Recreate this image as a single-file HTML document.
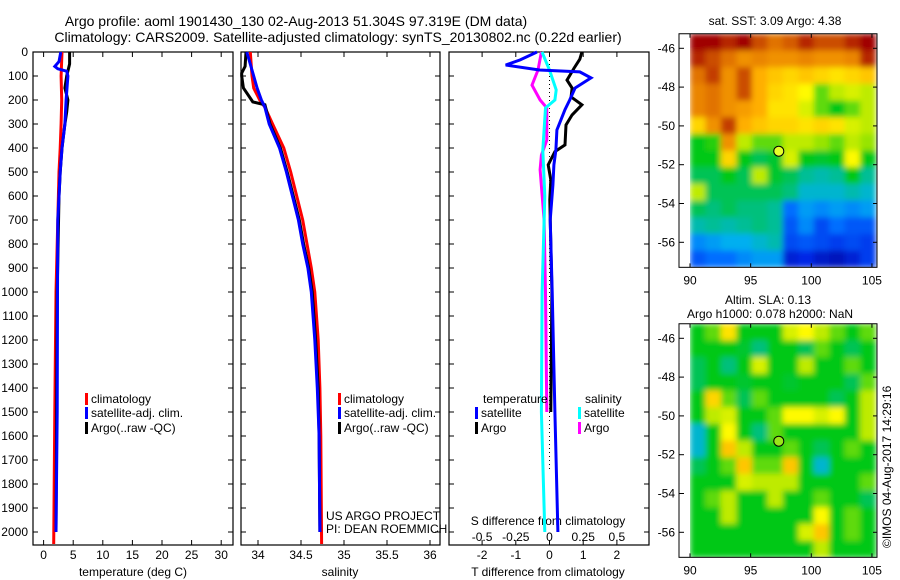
<!DOCTYPE html>
<html><head><meta charset="utf-8"><style>
html,body{margin:0;padding:0;background:#fff;}
svg{display:block;font-family:"Liberation Sans",sans-serif;}
text{font-size:12px;fill:#000;}
</style></head><body>
<svg id="c" width="900" height="580" viewBox="0 0 900 580" xmlns="http://www.w3.org/2000/svg">
<defs><filter id="blur" x="0" y="0" width="1" height="1"><feGaussianBlur stdDeviation="3" edgeMode="duplicate"/></filter></defs>
<text x="296" y="26" text-anchor="middle" style="font-size:14px">Argo profile: aoml 1901430_130 02-Aug-2013 51.304S 97.319E (DM data)</text>
<text x="338" y="42" text-anchor="middle" style="font-size:14px">Climatology: CARS2009. Satellite-adjusted climatology: synTS_20130802.nc (0.22d earlier)</text>
<text x="775" y="25" text-anchor="middle">sat. SST: 3.09 Argo: 4.38</text>
<text x="768" y="304" text-anchor="middle">Altim. SLA: 0.13</text>
<text x="770" y="318" text-anchor="middle">Argo h1000: 0.078 h2000: NaN</text>
<text transform="translate(891,548) rotate(-90)">©IMOS 04-Aug-2017 14:29:16</text>
<g id="g"></g>
</svg>
<script>
// ---- profile data ----
const tempClimDepth=[0,100,200,300,400,500,600,800,1000,1500,1900,2050];
const tempClim=[3.1,2.95,3.05,2.95,2.8,2.6,2.5,2.3,2.1,1.9,1.75,1.7];
const tempSatDepth=[0,40,60,70,80,100,200,300,400,500,700,1000,1500,2000];
const tempSat=[2.9,2.6,1.9,2.4,3.9,4.1,3.8,3.6,3.1,2.8,2.4,2.35,2.3,2.1];
const tempArgoDepth=[0,50,100,150,200,250,300,400,500,600,1000,1500,2000];
const tempArgo=[4.4,4.4,3.9,3.6,4.1,3.9,3.6,3.1,2.8,2.6,2.3,2.2,2.1];
const salClimDepth=[0,100,150,200,230,300,400,500,600,700,800,900,1000,1200,1400,1600,2050];
const salClim=[33.91,33.93,33.95,34.02,34.08,34.17,34.3,34.38,34.45,34.52,34.57,34.62,34.66,34.7,34.72,34.73,34.74];
const salSatDepth=[0,100,150,200,230,300,400,500,600,700,800,900,1000,1200,1400,1600,2000];
const salSat=[33.87,33.95,33.99,34.04,34.08,34.13,34.25,34.33,34.4,34.47,34.52,34.58,34.62,34.66,34.69,34.71,34.72];
const salArgoDepth=[0,60,88,100,150,208,220,300,400,500,600,700,800,900,1000,1200,1400,1600,2000];
const salArgo=[33.86,33.85,33.81,33.81,33.83,33.94,34.08,34.14,34.26,34.34,34.41,34.48,34.53,34.59,34.63,34.67,34.7,34.71,34.72];
const dTsatDepth=[0,33,54,75,83,108,150,200,240,325,408,470,555,700,1000,1500,2000];
const dTsat=[-0.37,-0.87,-1.3,-0.3,0.9,1.23,0.76,0.6,0.46,0.22,0.19,0.13,0.1,0.02,0.08,0.16,0.25];
const dTargoDepth=[0,30,67,117,150,187,220,262,304,387,415,470,533,616,1000,1500];
const dTargo=[0.96,0.9,0.73,0.52,0.67,0.64,0.96,0.67,0.49,0.46,0.16,-0.04,0.04,0.01,0.07,0.04];
const dSsatDepth=[0,75,158,200,233,325,408,600,1000,1500,2000];
const dSsat=[-0.056,0,0.05,0.04,-0.03,-0.04,-0.05,-0.035,-0.055,-0.06,-0.035];
const dSargoDepth=[0,75,138,200,233,367,430,490,700,1000,1500];
const dSargo=[-0.06,-0.085,-0.13,-0.07,-0.02,-0.02,-0.06,-0.07,-0.04,-0.03,-0.02];
const depthTicks=[0,100,200,300,400,500,600,700,800,900,1000,1100,1200,1300,1400,1500,1600,1700,1800,1900,2000];
const tempTicks=[0,5,10,15,20,25,30];
const salTicks=[34,34.5,35,35.5,36];
const salTickLabels=["34","34.5","35","35.5","36"];
const dTTicks=[-2,-1,0,1,2];
const dSTicks=[-0.5,-0.25,0,0.25,0.5];
const dSTickLabels=["-0.5","-0.25","0","0.25","0.5"];
// ---- map data (rows north->south, cols west->east, colormap index 0..1) ----
const mapLon0=90, mapLonStep=1.275, mapLat0=-45.25, mapLatStep=0.86;
const lonTicks=[90,95,100,105];
const latTicks=[-46,-48,-50,-52,-54,-56];
const sstGrid=[
[1,1,.95,1,.9,.85,.88,.95,.9,.9,.95,1],
[.95,.9,.85,.8,.82,.8,.8,.82,.8,.8,.82,.95],
[.85,.92,.8,.9,.75,.72,.7,.72,.7,.68,.7,.72],
[.82,.85,.8,.9,.75,.7,.68,.65,.55,.6,.62,.6],
[.82,.85,.8,.78,.75,.68,.68,.62,.55,.5,.55,.6],
[.7,.8,.92,.75,.72,.7,.7,.68,.7,.68,.62,.6],
[.5,.52,.8,.6,.55,.55,.6,.6,.58,.55,.6,.58],
[.5,.5,.7,.5,.45,.48,.62,.5,.48,.5,.65,.5],
[.45,.45,.5,.45,.6,.48,.45,.4,.38,.4,.5,.4],
[.6,.45,.45,.45,.45,.45,.42,.35,.35,.35,.38,.35],
[.45,.42,.45,.42,.42,.4,.25,.3,.28,.3,.28,.3],
[.38,.4,.38,.4,.42,.4,.22,.28,.2,.25,.22,.22],
[.28,.3,.32,.32,.35,.38,.2,.22,.2,.18,.2,.18],
[.22,.25,.25,.28,.3,.3,.12,.15,.1,.08,.12,.18]];
const slaGrid=[
[.5,.55,.68,.5,.5,.5,.62,.65,.6,.55,.5,.55],
[.5,.5,.5,.48,.42,.5,.5,.45,.55,.5,.45,.5],
[.45,.5,.42,.5,.62,.5,.5,.6,.5,.5,.55,.5],
[.45,.5,.5,.48,.5,.5,.48,.5,.5,.5,.45,.55],
[.5,.7,.55,.45,.55,.5,.5,.5,.5,.45,.5,.6],
[.5,.6,.62,.5,.5,.55,.65,.65,.62,.65,.5,.6],
[.35,.5,.65,.5,.42,.55,.5,.5,.5,.5,.5,.6],
[.35,.5,.72,.6,.5,.5,.55,.5,.45,.5,.55,.5],
[.45,.5,.55,.72,.55,.55,.72,.5,.35,.5,.5,.5],
[.5,.5,.5,.62,.6,.6,.6,.5,.5,.5,.5,.55],
[.5,.55,.6,.5,.5,.6,.5,.5,.55,.5,.5,.45],
[.5,.5,.6,.5,.5,.5,.5,.5,.65,.5,.55,.5],
[.5,.5,.5,.5,.5,.5,.5,.62,.72,.5,.55,.5],
[.5,.5,.5,.5,.5,.5,.5,.5,.6,.5,.5,.5]];
const argoLon=97.319, argoLat=-51.304;

const NS="http://www.w3.org/2000/svg";
const G=document.getElementById('g');
function mk(t,a,p){const e=document.createElementNS(NS,t);for(const k in a)e.setAttribute(k,a[k]);(p||G).appendChild(e);return e;}
const TOP=52,BOT=545;
const yD=d=>TOP+d*0.24;
const xT=v=>43.6+v*5.92;
const xS=v=>258+(v-34)*86;
const xdT=v=>549.5+v*33.7;
const xdS=v=>549.5+v*134.8;
const panels=[[33,233],[241,440],[449,649]];
panels.forEach((p,i)=>{
  const r=mk('rect',{x:p[0],y:TOP,width:p[1]-p[0],height:BOT-TOP,fill:'none',stroke:'#000','stroke-width':1.2});
  
  
  depthTicks.forEach(d=>{
    const y=yD(d);
    mk('line',{x1:p[0],x2:p[0]+5,y1:y,y2:y,stroke:'#000'});
    mk('line',{x1:p[1]-5,x2:p[1],y1:y,y2:y,stroke:'#000'});
  });
});
depthTicks.forEach(d=>{
  const t=mk('text',{x:28,y:yD(d)+4,'text-anchor':'end'});t.textContent=d;
  
  
});
function xticks(vals,labels,fx,p,ylab){
  vals.forEach((v,i)=>{
    const x=fx(v);
    mk('line',{x1:x,x2:x,y1:BOT-5,y2:BOT,stroke:'#000'});
    mk('line',{x1:x,x2:x,y1:TOP,y2:TOP+5,stroke:'#000'});
    if(ylab){const t=mk('text',{x:x,y:ylab,'text-anchor':'middle'});t.textContent=labels[i];
      
      }
  });
}
xticks(tempTicks,tempTicks.map(String),xT,panels[0],559);
xticks(salTicks,salTickLabels,xS,panels[1],559);
dTTicks.forEach(v=>{const x=xdT(v);mk('line',{x1:x,x2:x,y1:BOT-5,y2:BOT,stroke:'#000'});
  const t=mk('text',{x:x,y:559,'text-anchor':'middle'});t.textContent=v;
  
  });
dSTicks.forEach((v,i)=>{const x=xdS(v);mk('line',{x1:x,x2:x,y1:TOP,y2:TOP+5,stroke:'#000'});
  const t=mk('text',{x:x,y:541,'text-anchor':'middle'});t.textContent=dSTickLabels[i];
  
  });
[['temperature (deg C)',133,'x-axis-title-temperature'],['salinity',340,'x-axis-title-salinity'],['T difference from climatology',548,'x-axis-title-t-diff']].forEach(a=>{
  const t=mk('text',{x:a[1],y:576,'text-anchor':'middle'});t.textContent=a[0];
  
  
});
{const t=mk('text',{x:548,y:525,'text-anchor':'middle'});t.textContent='S difference from climatology';

}
{const l=mk('line',{x1:xdT(0),x2:xdT(0),y1:TOP,y2:yD(1750),stroke:'#000','stroke-dasharray':'1,3'});

}
function series(depths,vals,fx,color,name){
  const pts=depths.map((d,i)=>fx(vals[i]).toFixed(1)+','+yD(d).toFixed(1)).join(' ');
  const p=mk('polyline',{points:pts,fill:'none',stroke:color,'stroke-width':3,'stroke-linejoin':'miter'});
  
  
}
series(tempClimDepth,tempClim,xT,'#f00','temp-climatology-line');
series(tempArgoDepth,tempArgo,xT,'#000','temp-argo-line');
series(tempSatDepth,tempSat,xT,'#00f','temp-satellite-line');
series(salClimDepth,salClim,xS,'#f00','sal-climatology-line');
series(salArgoDepth,salArgo,xS,'#000','sal-argo-line');
series(salSatDepth,salSat,xS,'#00f','sal-satellite-line');
series(dSargoDepth,dSargo,xdS,'#f0f','s-diff-argo-line');
series(dSsatDepth,dSsat,xdS,'#0ff','s-diff-satellite-line');
series(dTargoDepth,dTargo,xdT,'#000','t-diff-argo-line');
series(dTsatDepth,dTsat,xdT,'#00f','t-diff-satellite-line');
function legItem(x,y,color,label,name){
  const g=mk('g',{});
  
  
  mk('rect',{x:x,y:y-10,width:3,height:12,fill:color},g);
  const t=mk('text',{x:x+6,y:y},g);t.textContent=label;
}
[[85,'legend-1'],[338,'legend-2']].forEach(a=>{
  legItem(a[0],403,'#f00','climatology',a[1]+'-climatology');
  legItem(a[0],417,'#00f','satellite-adj. clim.',a[1]+'-satellite');
  legItem(a[0],432,'#000','Argo(..raw -QC)',a[1]+'-argo');
});
{const t=mk('text',{x:483,y:403});t.textContent='temperature';

const u=mk('text',{x:585,y:403});u.textContent='salinity';
}
legItem(475,417,'#00f','satellite','legend-t-satellite');
legItem(475,432,'#000','Argo','legend-t-argo');
legItem(578,417,'#0ff','satellite','legend-s-satellite');
legItem(578,432,'#f0f','Argo','legend-s-argo');
{const t=mk('text',{x:326,y:520});t.textContent='US ARGO PROJECT';

const u=mk('text',{x:326,y:533});u.textContent='PI: DEAN ROEMMICH';
}
// ---- maps ----
const cmapStops=[[0,[0,0,140]],[0.15,[0,40,230]],[0.25,[0,110,255]],[0.32,[0,175,240]],[0.4,[0,190,150]],[0.5,[0,200,20]],[0.6,[190,235,0]],[0.65,[255,250,0]],[0.75,[255,175,0]],[0.85,[225,115,0]],[1,[160,0,0]]];
function cmap(v){
  v=Math.max(0,Math.min(1,v));
  for(let i=1;i<cmapStops.length;i++){
    const a=cmapStops[i-1],b=cmapStops[i];
    if(v<=b[0]){const t=(v-a[0])/(b[0]-a[0]);
      return 'rgb('+a[1].map((c,k)=>Math.round(c+(b[1][k]-c)*t)).join(',')+')';}
  }
  return 'rgb(160,0,0)';
}
const mx=lon=>690+(lon-90)*12.13;
function drawMap(grid,off,name,dotColor){
  const my=lat=>48.3+(-46-lat)*19.4+off;
  const g=mk('g',{});
  
  
  const y0=my(mapLat0),y1=my(mapLat0-14*mapLatStep);
  const cid='clip'+off;
  const cp=mk('clipPath',{id:cid},g);mk('rect',{x:690,y:y0,width:187,height:y1-y0},cp);
  const outer=mk('g',{'clip-path':'url(#'+cid+')'},g);
  const cg=mk('g',{filter:'url(#blur)'},outer);
  grid.forEach((row,r)=>row.forEach((v,c)=>{
    const xa=mx(mapLon0+c*mapLonStep),xb=mx(mapLon0+(c+1)*mapLonStep);
    const ya=my(mapLat0-r*mapLatStep),yb=my(mapLat0-(r+1)*mapLatStep);
    const cell=mk('rect',{x:xa,y:ya,width:xb-xa+0.5,height:yb-ya+0.5,fill:cmap(v)},cg);
    
    
  }));
  mk('rect',{x:679,y:y0,width:198,height:y1-y0,fill:'none',stroke:'#000'},g);
  lonTicks.forEach(l=>{const x=mx(l);
    mk('line',{x1:x,x2:x,y1:y0,y2:y0+4,stroke:'#000'},g);
    mk('line',{x1:x,x2:x,y1:y1-4,y2:y1,stroke:'#000'},g);
    const t=mk('text',{x:x,y:y1+17,'text-anchor':'middle'},g);t.textContent=l;
    
    });
  latTicks.forEach(l=>{const y=my(l);
    mk('line',{x1:679,x2:684,y1:y,y2:y,stroke:'#000'},g);
    mk('line',{x1:873,x2:877,y1:y,y2:y,stroke:'#000'},g);
    const t=mk('text',{x:675,y:y+4,'text-anchor':'end'},g);t.textContent=l;
    
    });
  const d=mk('circle',{cx:mx(argoLon),cy:my(argoLat),r:5,fill:dotColor,stroke:'#000','stroke-width':1},g);
  
  
}
drawMap(sstGrid,0,'sst-map','#e6ff2a');
drawMap(slaGrid,290,'sla-map','#99e619');
</script>
</body></html>
